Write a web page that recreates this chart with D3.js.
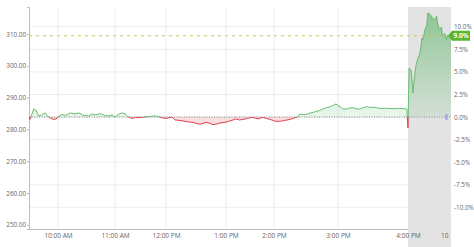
<!doctype html>
<html>
<head>
<meta charset="utf-8">
<script src="https://cdn.jsdelivr.net/npm/d3@7"></script>
<style>
  body { margin: 0; background: #fff; }
  svg text { font-family: "Open Sans", sans-serif; }
</style>
</head>
<body>
<svg id="chart" width="474" height="247"></svg>
<script>
// previous close and last trade
var prevClose = 283.9;
var lastPrice = 309.45;

// intraday + after-hours trace
var sessionTimes = [
  "09:30","09:31","09:32","09:35","09:37","09:40","09:43","09:47","09:49","09:52","09:55","09:58",
  "10:00","10:04","10:08","10:13","10:18","10:22","10:26","10:32","10:36","10:39","10:43","10:46","10:49","10:53","10:57",
  "11:00","11:05","11:08","11:12","11:15","11:20","11:24","11:29","11:35","11:41","11:47","11:51","11:56",
  "12:00","12:02","12:06","12:09","12:14","12:21","12:27","12:34","12:38","12:41","12:44","12:47","12:51","12:54","12:58",
  "13:01","13:05","13:09","13:12","13:17","13:21","13:27","13:32","13:36","13:40","13:46","13:51","13:57",
  "14:02","14:06","14:10","14:15","14:19","14:22","14:24","14:28","14:31","14:34","14:37","14:40","14:42","14:45","14:49","14:52","14:55","14:58",
  "15:00","15:03","15:04","15:08","15:10","15:13","15:16","15:19","15:22","15:25","15:28","15:31","15:34","15:37","15:40","15:44","15:47","15:51","15:53","15:57","15:59",
  "16:00","16:06","16:17","16:28","16:34","16:45","16:56","17:07","17:18","17:23","17:34","17:45","17:50",
  "18:01","18:18","18:29","18:40","18:45","18:56","19:07","19:13","19:24","19:35","19:40","19:51","20:00"
];
var sessionPrices = [
  283.93,283.15,283.93,286.45,286.13,284.24,284.56,285.19,284.24,283.62,283.15,283.30,
  283.93,284.72,284.40,285.19,284.87,285.19,284.56,284.24,284.87,284.56,284.87,284.87,284.40,284.24,284.56,
  283.93,284.87,285.19,284.87,284.09,283.46,283.77,283.71,283.93,284.09,284.24,284.09,283.62,
  283.46,283.62,283.93,282.99,282.83,282.45,282.20,281.64,282.05,282.20,281.89,281.51,281.73,282.05,282.20,
  282.36,282.67,282.99,283.30,282.99,283.15,283.46,283.77,283.62,283.30,283.77,283.46,282.99,
  282.52,282.58,282.83,283.15,283.62,283.93,284.78,284.72,284.78,285.19,285.34,285.82,285.82,286.29,286.85,287.07,287.48,288.01,
  287.54,286.76,286.45,286.45,286.76,286.85,286.45,286.45,286.91,287.17,286.91,286.98,286.76,286.60,286.66,286.60,286.54,286.66,286.60,286.54,286.45,
  280.47,299.32,298.70,291.47,295.55,300.27,302.47,304.04,308.75,308.12,311.26,312.83,316.60,
  316.29,315.03,314.41,315.66,313.46,311.26,312.21,309.07,310.32,308.12,309.69,309.07,309.45
];

var priceTicks = [250, 260, 270, 280, 290, 300, 310];
var pctTicks = [-10, -7.5, -5, -2.5, 0, 2.5, 5, 7.5, 10];
var timeTicks = ["10:00","11:00","12:00","13:00","14:00","15:00","16:00","20:20"];
var timeLabels = ["10:00 AM","11:00 AM","12:00 PM","1:00 PM","2:00 PM","3:00 PM","4:00 PM","10:00 PM"];
var afterHoursStart = "16:00";
var markerTime = "19:35";

var parse = d3.timeParse("%H:%M");
var data = sessionTimes.map(function(t, i) { return { t: parse(t), p: sessionPrices[i] }; });
var fmtPct = function(d) { return d3.format(".1f")(d).replace("\u2212", "-") + "%"; };

var svg = d3.select("#chart");
var margin = { top: 7, right: 23, bottom: 18, left: 29 };
var width = +svg.attr("width") - margin.left - margin.right;
var height = +svg.attr("height") - margin.top - margin.bottom;
var g = svg.append("g").attr("transform", "translate(" + margin.left + "," + margin.top + ")");

// the time axis is not uniform (trading-tick based), so piecewise
var xBreaks = ["09:30","10:00","11:00","12:00","13:00","14:00","15:00","16:00","20:00"].map(parse);
var xFrac = [0, 29, 86, 137, 197, 245, 309, 379, 422].map(function(v) { return v / 422 * width; });
var x = d3.scaleTime().domain(xBreaks).range(xFrac);

var y = d3.scaleLinear().domain([248.7, 318.5]).range([height, 0]);
var yPct = d3.scaleLinear()
  .domain([-10, 10])
  .range([y(prevClose * 0.9), y(prevClose * 1.1)]);
var base = y(prevClose);

var defs = svg.append("defs");
defs.append("clipPath").attr("id", "above")
  .append("rect").attr("x", 0).attr("y", -margin.top).attr("width", width).attr("height", base + margin.top);
defs.append("clipPath").attr("id", "below")
  .append("rect").attr("x", 0).attr("y", base).attr("width", width).attr("height", height - base);
defs.append("clipPath").attr("id", "xclip")
  .append("rect").attr("x", -margin.left).attr("y", 0).attr("width", margin.left + width - 2).attr("height", margin.bottom);

var grad = defs.append("linearGradient").attr("id", "upfill")
  .attr("gradientUnits", "userSpaceOnUse")
  .attr("x1", 0).attr("x2", 0).attr("y1", y(318)).attr("y2", base);
grad.append("stop").attr("offset", "0%").attr("stop-color", "#4fae5a").attr("stop-opacity", 0.6);
grad.append("stop").attr("offset", "100%").attr("stop-color", "#6cc07a").attr("stop-opacity", 0.14);

// after-hours shading
var ahX = x(parse(afterHoursStart));
g.append("rect")
  .attr("x", ahX).attr("y", 0)
  .attr("width", width - ahX).attr("height", height + margin.bottom)
  .attr("fill", "#e3e3e3");

// gridlines
g.append("g").selectAll("line").data(pctTicks).enter().append("line")
  .attr("x1", 0).attr("x2", ahX)
  .attr("y1", function(d) { return yPct(d); }).attr("y2", function(d) { return yPct(d); })
  .attr("stroke", "#ededed").attr("stroke-width", 1);
g.append("g").selectAll("line").data(timeTicks.slice(0, 6)).enter().append("line")
  .attr("x1", function(d) { return x(parse(d)); }).attr("x2", function(d) { return x(parse(d)); })
  .attr("y1", 0).attr("y2", height)
  .attr("stroke", "#ededed").attr("stroke-width", 1);

// axes
var yAxis = g.append("g").call(d3.axisLeft(y).tickValues(priceTicks).tickFormat(d3.format(".2f")).tickSize(2).tickPadding(1));
yAxis.select(".domain").attr("stroke", "#bdbdbd");
yAxis.selectAll(".tick line").attr("stroke", "#bdbdbd");
yAxis.selectAll("text").attr("fill", "#666").style("font-size", "6.3px");

var xAxis = g.append("g").attr("transform", "translate(0," + height + ")")
  .call(d3.axisBottom(x).tickValues(timeTicks.map(parse))
    .tickFormat(function(d, i) { return timeLabels[i]; }).tickSize(0).tickPadding(4));
xAxis.attr("clip-path", "url(#xclip)");
xAxis.select(".domain").remove();
xAxis.selectAll("text").attr("fill", "#666").style("font-size", "6.5px");
g.append("line")
  .attr("x1", 0).attr("x2", ahX).attr("y1", height + 0.5).attr("y2", height + 0.5)
  .attr("stroke", "#bdbdbd");

var rAxis = g.append("g").attr("transform", "translate(" + width + ",0)")
  .call(d3.axisRight(yPct).tickValues(pctTicks).tickFormat(fmtPct).tickSize(0).tickPadding(3));
rAxis.select(".domain").remove();
rAxis.selectAll("text").attr("fill", "#666").style("font-size", "6.3px");

// areas
var area = d3.area()
  .x(function(d) { return x(d.t); })
  .y0(base)
  .y1(function(d) { return y(d.p); });
var line = d3.line()
  .x(function(d) { return x(d.t); })
  .y(function(d) { return y(d.p); });

g.append("path").datum(data).attr("d", area)
  .attr("fill", "url(#upfill)").attr("clip-path", "url(#above)");
g.append("path").datum(data).attr("d", area)
  .attr("fill", "#f6c9cd").attr("fill-opacity", 0.6).attr("clip-path", "url(#below)");

// baseline (previous close)
g.append("line")
  .attr("x1", 0).attr("x2", width).attr("y1", base).attr("y2", base)
  .attr("stroke", "#8a8a8a").attr("stroke-width", 1).attr("stroke-dasharray", "1,1.5");

g.append("path").datum(data).attr("d", line)
  .attr("fill", "none").attr("stroke", "#68bd6e").attr("stroke-width", 1)
  .attr("clip-path", "url(#above)");
g.append("path").datum(data).attr("d", line)
  .attr("fill", "none").attr("stroke", "#e0404f").attr("stroke-width", 1)
  .attr("clip-path", "url(#below)");

// marker at baseline
g.append("rect")
  .attr("x", x(parse(markerTime)) - 1).attr("y", base - 3)
  .attr("width", 2).attr("height", 6)
  .attr("fill", "#9d9de0");

// last price line + tag
var ly = y(lastPrice);
g.append("line")
  .attr("x1", 0).attr("x2", width).attr("y1", ly).attr("y2", ly)
  .attr("stroke", "#c9c65a").attr("stroke-width", 1).attr("stroke-dasharray", "3,4");

var pct = (lastPrice / prevClose - 1) * 100;
var tag = g.append("g").attr("transform", "translate(" + (width - 3) + "," + ly + ")");
tag.append("path")
  .attr("d", "M0,0 L4,-5 L22,-5 L22,5 L4,5 Z")
  .attr("fill", "#5cb531");
tag.append("text")
  .attr("x", 13).attr("y", 2.3)
  .attr("text-anchor", "middle")
  .attr("fill", "#fff")
  .style("font-size", "6.5px").style("font-weight", "bold")
  .text(fmtPct(pct));
</script>
</body>
</html>
